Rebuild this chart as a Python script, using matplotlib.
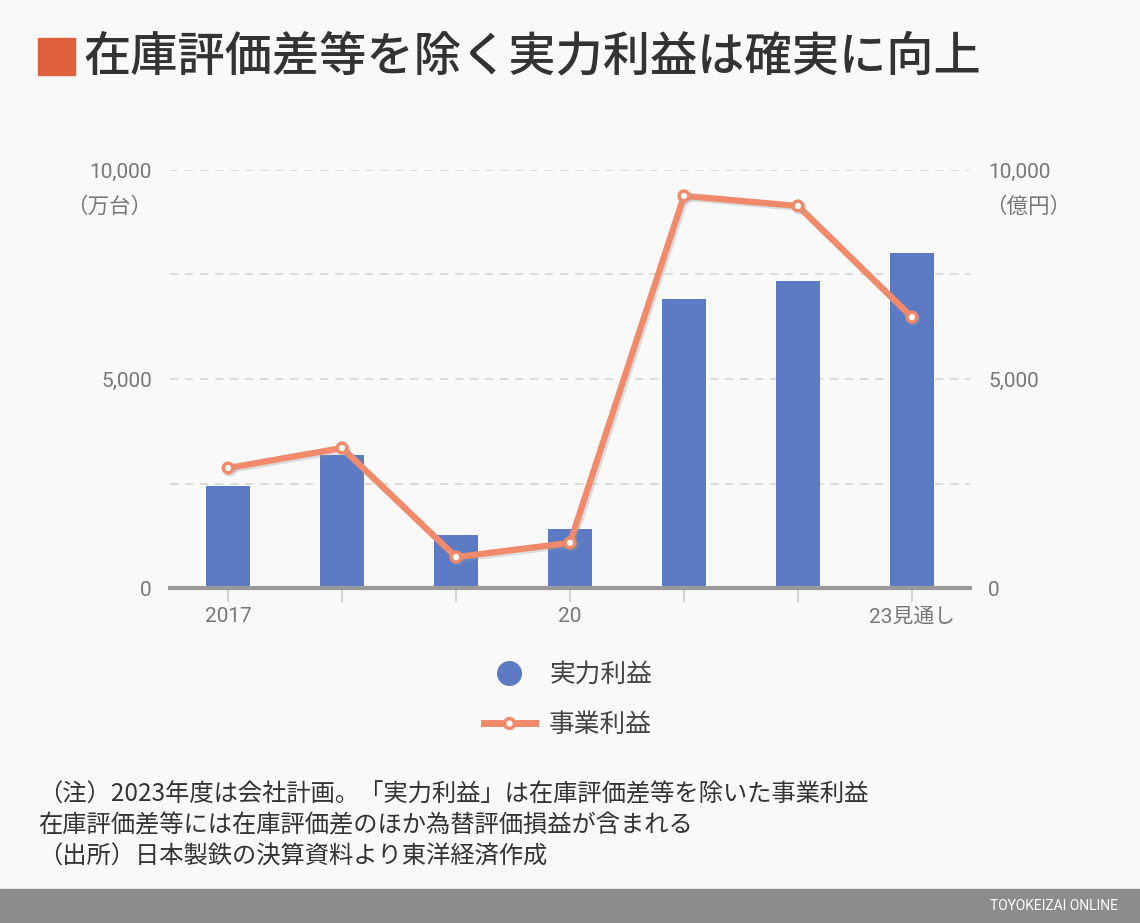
import matplotlib.pyplot as plt
from matplotlib.lines import Line2D
import matplotlib.patheffects as pe

# data
years = ['2017', '18', '19', '20', '21', '22', '23見通し']
tick_text = ['2017', '', '', '20', '', '', '23見通し']
jitsuryoku = [2440, 3180, 1270, 1410, 6910, 7340, 8010]   # 実力利益 (bars)
jigyou = [2870, 3350, 740, 1080, 9380, 9140, 6480]        # 事業利益 (line)

BG = '#f9f9f9'
BAR = '#5d7bc5'
LINE = '#f08a6a'
GRAY = '#777777'
JP = ['Noto Sans CJK JP', 'DejaVu Sans']
NUM = ['Roboto', 'Noto Sans CJK JP']

plt.rcParams['font.family'] = JP

W, H = 1140, 923
fig = plt.figure(figsize=(W / 100, H / 100), dpi=100, facecolor=BG)

def px(x, y):
    return x / W, 1 - y / H

# title
fig.patches.append(plt.Rectangle(px(38, 75), 37 / W, 37 / H, transform=fig.transFigure,
                                 color='#e0603c', zorder=5))
fig.text(*px(83, 57), '在庫評価差等を除く実力利益は確実に向上', fontsize=34,
         color='#333333', va='center', ha='left', fontweight='medium')

ax = fig.add_axes([170 / W, 1 - 588 / H, 800 / W, 418 / H])
ax.set_facecolor(BG)
x = range(len(years))
ax.bar(x, jitsuryoku, width=0.39, color=BAR, zorder=2)
ax.set_xlim(-0.51, 6.51)
ax.set_ylim(0, 10000)
for v in [2500, 5000, 7500, 10000]:
    ax.axhline(v, color='#d6d6d6', lw=1.2, ls=(0, (5, 4)), zorder=1)
ax.set_yticks([0, 5000, 10000])
ax.set_yticklabels(['0', '5,000', '10,000'], fontsize=15, color=GRAY, family=NUM)
ax.tick_params(axis='y', length=0, pad=13)
ax.set_xticks(list(x))
ax.set_xticklabels(tick_text, fontsize=15, color=GRAY, family=NUM)
ax.tick_params(axis='x', length=10, color='#cccccc', width=1.2, pad=4)
for s in ['top', 'right', 'left']:
    ax.spines[s].set_visible(False)
ax.spines['bottom'].set_color('#9a9a9a')
ax.spines['bottom'].set_linewidth(3)
ax.spines['bottom'].set_zorder(4)

ax2 = ax.twinx()
ax2.set_ylim(0, 10000)
ax2.plot(x, jigyou, color=LINE, lw=4.5, marker='o', ms=7, mfc='white', mec=LINE, mew=2.5,
         zorder=3, solid_joinstyle='round',
         path_effects=[pe.SimpleLineShadow(offset=(1.5, -1.5), shadow_color='#999999', alpha=0.3),
                       pe.Normal()])
ax2.set_yticks([0, 5000, 10000])
ax2.set_yticklabels(['0', '5,000', '10,000'], fontsize=15, color=GRAY, family=NUM)
ax2.tick_params(axis='y', length=0, pad=13)
for s in ['top', 'right', 'left', 'bottom']:
    ax2.spines[s].set_visible(False)

# unit labels
fig.text(*px(152, 207), '（万台）', fontsize=15.5, color=GRAY, ha='right', va='center')
fig.text(*px(985, 207), '（億円）', fontsize=15.5, color=GRAY, ha='left', va='center')

# legend
handles = [Line2D([], [], ls='none', marker='o', ms=17, color=BAR),
           Line2D([], [], color=LINE, lw=5, marker='o', ms=7, mfc='white', mec=LINE, mew=2.5)]
fig.legend(handles, ['実力利益', '事業利益'], loc='center', bbox_to_anchor=px(568, 700),
           frameon=False, fontsize=18.5, labelcolor='#444444', handlelength=2.0,
           labelspacing=0.95, handletextpad=0.55)

# notes
notes = ['（注）2023年度は会社計画。「実力利益」は在庫評価差等を除いた事業利益',
         '在庫評価差等には在庫評価差のほか為替評価損益が含まれる',
         '（出所）日本製鉄の決算資料より東洋経済作成']
for i, t in enumerate(notes):
    fig.text(*px(38, 794 + i * 31.5), t, fontsize=17.5, color='#333333', va='center', ha='left')

# footer
fig.patches.append(plt.Rectangle((0, 0), 1, 34 / H, transform=fig.transFigure,
                                 color='#8c8c8c', zorder=1))
fig.text(*px(1118, 906), 'TOYOKEIZAI ONLINE', fontsize=10, color='white',
         ha='right', va='center', family=NUM)

fig.savefig('out.png', dpi=100, facecolor=BG)
